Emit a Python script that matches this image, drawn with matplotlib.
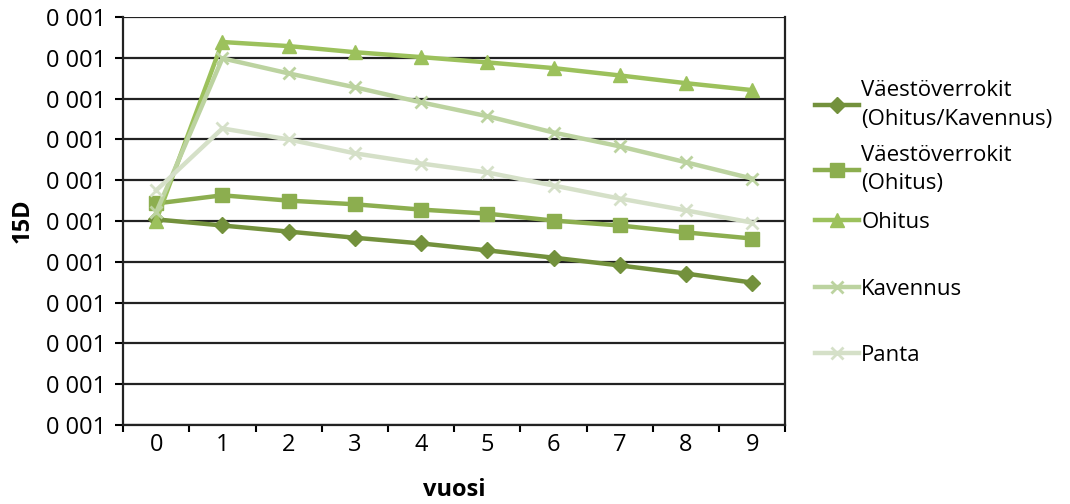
import numpy as np
import matplotlib.pyplot as plt

plt.rcParams['font.family'] = ['Open Sans', 'DejaVu Sans']

# vuodet ja sarjat (arvot luettu kuvasta, yksikkona ruudukon vali)
vuodet = [0, 1, 2, 3, 4, 5, 6, 7, 8, 9]
verrokit_ohkav = [5.04, 4.89, 4.74, 4.59, 4.45, 4.28, 4.10, 3.91, 3.71, 3.49]
verrokit_ohitus = [5.43, 5.63, 5.50, 5.41, 5.28, 5.18, 5.01, 4.89, 4.72, 4.57]
ohitus = [5.01, 9.39, 9.29, 9.14, 9.02, 8.89, 8.75, 8.57, 8.38, 8.21]
kavennus = [5.21, 8.99, 8.62, 8.28, 7.91, 7.57, 7.17, 6.83, 6.44, 6.04]
panta = [5.75, 7.27, 7.00, 6.66, 6.41, 6.19, 5.87, 5.55, 5.26, 4.96]
y_ticks = list(range(11))
y_labels = ['0 001'] * 11

fig = plt.figure(figsize=(10.7, 5.04), dpi=100)
ax = fig.add_axes([0.115, 0.157, 0.619, 0.809])

for y in y_ticks:
    ax.axhline(y, color='#222222', lw=1.6, zorder=1)

x = np.arange(len(vuodet))
ax.plot(x, verrokit_ohkav, '-D', color='#73913c', lw=3.2, ms=8, label='Väestöverrokit\n(Ohitus/Kavennus)', zorder=3)
ax.plot(x, verrokit_ohitus, '-s', color='#8cae4f', lw=3.2, ms=10, label='Väestöverrokit\n(Ohitus)', zorder=3)
ax.plot(x, ohitus, '-^', color='#9cc15c', lw=3.2, ms=10, label='Ohitus', zorder=3)
ax.plot(x, kavennus, '-x', color='#bcd3a0', lw=3.2, ms=9, mew=2, label='Kavennus', zorder=3)
ax.plot(x, panta, '-x', color='#d5e0c8', lw=3.2, ms=9, mew=2, label='Panta', zorder=3)

ax.set_xlim(-0.5, 9.5)
ax.set_ylim(0, 10)
ax.set_yticks(y_ticks)
ax.set_yticklabels(y_labels, fontsize=17)
ax.set_xticks(x)
ax.set_xticklabels([str(v) for v in vuodet], fontsize=17)
ax.set_xticks(np.arange(-0.5, 10, 1), minor=True)
ax.tick_params(axis='x', which='major', length=0, pad=6)
ax.tick_params(axis='x', which='minor', length=5, width=1.5, direction='out')
ax.tick_params(axis='y', length=6, width=1.5, direction='out', pad=6)

for s in ['left', 'right', 'bottom']:
    ax.spines[s].set_linewidth(1.6)
    ax.spines[s].set_color('#222222')
ax.spines['top'].set_visible(False)

ax.set_xlabel('vuosi', fontsize=17, fontweight='bold', labelpad=15)
ax.set_ylabel('15D', fontsize=17, fontweight='bold', labelpad=8)

# kaksi selitetta, jotta rivivalit vastaavat alkuperaista
h, l = ax.get_legend_handles_labels()
leg_opts = dict(loc='center left', frameon=False, fontsize=16, handlelength=2.0,
                handletextpad=0.1, borderpad=0, borderaxespad=0)
leg1 = ax.legend(h[:2], l[:2], bbox_to_anchor=(1.044, 0.705), labelspacing=0.7, **leg_opts)
for t in leg1.get_texts():
    t.set_linespacing(1.45)
ax.add_artist(leg1)
ax.legend(h[2:], l[2:], bbox_to_anchor=(1.044, 0.333), labelspacing=2.05, **leg_opts)

fig.savefig('out.png', dpi=100)
